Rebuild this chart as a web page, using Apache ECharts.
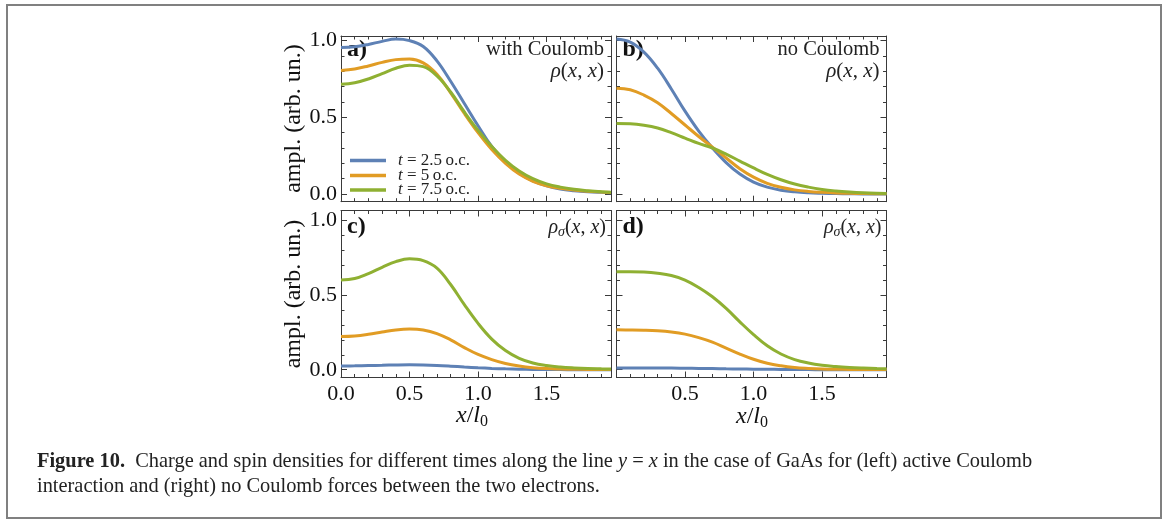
<!DOCTYPE html>
<html><head><meta charset="utf-8">
<script src="https://cdn.jsdelivr.net/npm/echarts@6/dist/echarts.min.js"></script>
<style>html,body{margin:0;padding:0;background:#fff}#c{width:1163px;height:519px}</style>
</head><body><div id="c"></div>
<script>
// ---- data ----
const xs = [0,0.1,0.2,0.3,0.4,0.5,0.6,0.7,0.8,0.9,1.0,1.1,1.2,1.3,1.4,1.5,1.6,1.7,1.8,1.9,1.97];
// a) with Coulomb rho(x,x)
const aBlue   = [0.955,0.960,0.975,0.995,1.010,1.000,0.962,0.868,0.735,0.590,0.445,0.310,0.210,0.135,0.085,0.053,0.033,0.022,0.015,0.011,0.009];
const aOrange = [0.805,0.815,0.835,0.858,0.876,0.880,0.855,0.780,0.660,0.525,0.400,0.290,0.200,0.130,0.083,0.054,0.037,0.026,0.018,0.013,0.010];
const aGreen  = [0.715,0.725,0.750,0.785,0.820,0.840,0.830,0.770,0.665,0.535,0.415,0.310,0.220,0.150,0.100,0.066,0.045,0.031,0.022,0.015,0.012];
// b) no Coulomb rho(x,x)
const bBlue   = [1.010,0.990,0.925,0.820,0.685,0.540,0.410,0.300,0.205,0.130,0.078,0.045,0.025,0.014,0.008,0.005,0.003,0.002,0.001,0.001,0.000];
const bOrange = [0.690,0.680,0.645,0.595,0.525,0.450,0.375,0.305,0.235,0.165,0.110,0.070,0.044,0.027,0.017,0.011,0.007,0.005,0.003,0.002,0.002];
const bGreen  = [0.460,0.458,0.448,0.430,0.400,0.365,0.330,0.300,0.260,0.215,0.170,0.128,0.093,0.065,0.045,0.030,0.020,0.013,0.008,0.005,0.004];
// c) with Coulomb rho_sigma(x,x)
const cBlue   = [0.025,0.026,0.028,0.030,0.032,0.033,0.032,0.029,0.024,0.018,0.013,0.009,0.006,0.004,0.002,0.001,0.001,0.000,0.000,0.000,0.000];
const cOrange = [0.222,0.226,0.237,0.252,0.266,0.272,0.266,0.242,0.200,0.148,0.102,0.068,0.042,0.025,0.014,0.008,0.005,0.003,0.002,0.001,0.001];
const cGreen  = [0.600,0.610,0.643,0.685,0.723,0.742,0.730,0.680,0.570,0.435,0.310,0.205,0.128,0.076,0.045,0.028,0.018,0.012,0.008,0.006,0.005];
// d) no Coulomb rho_sigma(x,x)
const dBlue   = [0.012,0.012,0.012,0.011,0.011,0.010,0.009,0.008,0.006,0.005,0.004,0.003,0.002,0.001,0.001,0.000,0.000,0.000,0.000,0.000,0.000];
const dOrange = [0.267,0.266,0.264,0.260,0.252,0.238,0.215,0.185,0.145,0.105,0.070,0.043,0.026,0.015,0.009,0.005,0.003,0.002,0.001,0.001,0.001];
const dGreen  = [0.655,0.655,0.653,0.645,0.630,0.600,0.550,0.488,0.410,0.320,0.235,0.160,0.105,0.068,0.045,0.030,0.021,0.015,0.011,0.008,0.007];

const seriesNames = ['t = 2.5 o.c.','t = 5 o.c.','t = 7.5 o.c.'];
const legendTexts = ['{i|t} = 2.5\u2009o.c.','{i|t} = 5\u2009o.c.','{i|t} = 7.5\u2009o.c.'];
const xMajorTicks = [0,0.5,1.0,1.5];
const xMinorTicks = [0.1,0.2,0.3,0.4,0.6,0.7,0.8,0.9,1.1,1.2,1.3,1.4,1.6,1.7,1.8,1.9];
const yMajorTicks = [0,0.5,1.0];
const yMinorTicks = [0.1,0.2,0.3,0.4,0.6,0.7,0.8,0.9];
const xLabelsLeft = [0,0.5,1.0,1.5];
const xLabelsRight = [0.5,1.0,1.5];
const yLabels = [0,0.5,1.0];
const panelLetters = ['a)','b)','c)','d)'];
const panelNotes = ['with Coulomb','no Coulomb','',''];
// ---- layout ----
const COLORS = ['#5E81B5','#E19C24','#8FB032'];
const FRAME = '#3a3a3a';
const FONT = 'Liberation Serif';
const XMAX = 1.97;
const panels = [
  {left:341,  top:36,    width:270, height:165.7, ymin:-0.05,  ymax:1.03,  xl:null,         yl:true,  data:[aBlue,aOrange,aGreen]},
  {left:616.5,top:36,    width:270, height:165.7, ymin:-0.05,  ymax:1.03,  xl:null,         yl:false, data:[bBlue,bOrange,bGreen]},
  {left:341,  top:210.5, width:270, height:167,   ymin:-0.052, ymax:1.065, xl:xLabelsLeft,  yl:true,  data:[cBlue,cOrange,cGreen]},
  {left:616.5,top:210.5, width:270, height:167,   ymin:-0.052, ymax:1.065, xl:xLabelsRight, yl:false, data:[dBlue,dOrange,dGreen]}
];

const grids=[], xAxes=[], yAxes=[], series=[];
function xAx(gi, pos, ticks, len, labels, line){
  return {gridIndex:gi, type:'value', min:0, max:XMAX, position:pos,
    axisLine:{show:line, onZero:false, lineStyle:{color:FRAME, width:1}},
    axisTick:{show:true, inside:true, length:len, customValues:ticks, lineStyle:{color:FRAME, width:1}},
    axisLabel:labels ? {show:true, customValues:labels, formatter:v=>v.toFixed(1), margin:6,
      fontFamily:FONT, fontSize:22, color:'#111'} : {show:false},
    splitLine:{show:false}};
}
function yAx(gi, pos, p, ticks, len, labels, line){
  return {gridIndex:gi, type:'value', min:p.ymin, max:p.ymax, position:pos,
    axisLine:{show:line, onZero:false, lineStyle:{color:FRAME, width:1}},
    axisTick:{show:true, inside:true, length:len, customValues:ticks, lineStyle:{color:FRAME, width:1}},
    axisLabel:labels ? {show:true, customValues:labels, formatter:v=>v.toFixed(1), margin:4,
      fontFamily:FONT, fontSize:22, color:'#111'} : {show:false},
    splitLine:{show:false}};
}
panels.forEach((p,i)=>{
  grids.push({left:p.left, top:p.top, width:p.width, height:p.height, containLabel:false});
  xAxes.push(xAx(i,'bottom',xMajorTicks,6,p.xl,true));
  xAxes.push(xAx(i,'top',xMajorTicks,6,null,true));
  yAxes.push(yAx(i,'left',p,yMajorTicks,6,p.yl?yLabels:null,true));
  yAxes.push(yAx(i,'right',p,yMajorTicks,6,null,true));
  p.data.forEach((arr,k)=>{
    series.push({type:'line', name:seriesNames[k], xAxisIndex:2*i, yAxisIndex:2*i,
      data:xs.map((x,j)=>[x,arr[j]]), smooth:0.4, symbol:'none',
      lineStyle:{width:3, color:COLORS[k]}, itemStyle:{color:COLORS[k]}, z:3+k, silent:true});
  });
});
panels.forEach((p,i)=>{
  grids.push({left:p.left, top:p.top, width:p.width, height:p.height, containLabel:false});
  xAxes.push(xAx(4+i,'bottom',xMinorTicks,3.5,null,false));
  xAxes.push(xAx(4+i,'top',xMinorTicks,3.5,null,false));
  yAxes.push(yAx(4+i,'left',p,yMinorTicks,3.5,null,false));
  yAxes.push(yAx(4+i,'right',p,yMinorTicks,3.5,null,false));
});

const graphics = [];
graphics.push({type:'rect', shape:{x:7,y:5,width:1154,height:513}, style:{fill:'none', stroke:'#808080', lineWidth:2}, silent:true});
panels.forEach((p,i)=>{
  graphics.push({type:'text', x:p.left+6, y:p.top + (i<2?14:16.5), style:{text:panelLetters[i], font:'bold 24px "'+FONT+'"', fill:'#111', verticalAlign:'middle'}});
  const right = p.left + p.width - 7;
  if(i<2){
    graphics.push({type:'text', x:right, y:p.top+14, style:{text:panelNotes[i], font:'20.5px "'+FONT+'"', fill:'#222', align:'right', verticalAlign:'middle'}});
    graphics.push({type:'text', x:right, y:p.top+35.5, style:{text:'{i|ρ}{n|(}{i|x}{n|, }{i|x}{n|)}', align:'right', verticalAlign:'middle',
      rich:{i:{fontFamily:FONT, fontStyle:'italic', fontSize:21, fill:'#222'}, n:{fontFamily:FONT, fontSize:21, fill:'#222'}}}});
  } else {
    graphics.push({type:'text', x:right+2, y:p.top+17.5, style:{text:'{i|ρ}{s|σ}{n|(}{i|x}{n|, }{i|x}{n|)}', align:'right', verticalAlign:'middle',
      rich:{i:{fontFamily:FONT, fontStyle:'italic', fontSize:20, fill:'#222', lineHeight:22},
            s:{fontFamily:FONT, fontStyle:'italic', fontSize:14, fill:'#222', lineHeight:22, verticalAlign:'bottom', padding:[7,0,0,0]},
            n:{fontFamily:FONT, fontSize:20, fill:'#222', lineHeight:22}}}});
  }
});
// y axis titles
[[294,118.5],[294,294]].forEach(([x,y])=>{
  graphics.push({type:'text', x:x, y:y, rotation:Math.PI/2, style:{text:'ampl. (arb. un.)', font:'24px "'+FONT+'"', fill:'#111', align:'center', verticalAlign:'middle'}});
});
// x axis titles
[[472,416],[752,417]].forEach(([x,y])=>{
  graphics.push({type:'text', x:x, y:y, style:{text:'{i|x}{n|/}{i|l}{s|0}', align:'center', verticalAlign:'middle',
    rich:{i:{fontFamily:FONT, fontStyle:'italic', fontSize:24, fill:'#111', lineHeight:28},
          n:{fontFamily:FONT, fontSize:24, fill:'#111', lineHeight:28},
          s:{fontFamily:FONT, fontSize:16, fill:'#111', lineHeight:28, verticalAlign:'bottom', padding:[8,0,0,0]}}}});
});
// caption
const capRich = {b:{fontFamily:FONT, fontWeight:'bold', fontSize:20.4, fill:'#222'},
                 n:{fontFamily:FONT, fontSize:20.4, fill:'#222'},
                 i:{fontFamily:FONT, fontStyle:'italic', fontSize:20.4, fill:'#222'}};
graphics.push({type:'text', x:37, y:462, style:{text:'{b|Figure 10.}{n|  Charge and spin densities for different times along the line }{i|y}{n| = }{i|x}{n| in the case of GaAs for (left) active Coulomb}', verticalAlign:'middle', rich:capRich}});
graphics.push({type:'text', x:37, y:487, style:{text:'{n|interaction and (right) no Coulomb forces between the two electrons.}', verticalAlign:'middle', rich:capRich}});

// three single-item legends, stacked
const legendTops = [152, 167, 181.5];
const legends = seriesNames.map((nm,k)=>({data:[nm], orient:'vertical', left:350, top:legendTops[k], icon:'rect',
    itemWidth:36, itemHeight:3.5, selectedMode:false, padding:0,
    formatter:name=>legendTexts[seriesNames.indexOf(name)],
    textStyle:{fontFamily:FONT, fontSize:17, color:'#222', lineHeight:15, padding:[0,0,0,7],
      rich:{i:{fontFamily:FONT, fontStyle:'italic', fontSize:17, color:'#222', lineHeight:15}}}}));

const chart = echarts.init(document.getElementById('c'), null, {renderer:'canvas'});
chart.setOption({
  animation:false,
  backgroundColor:'#fff',
  grid:grids, xAxis:xAxes, yAxis:yAxes, series:series,
  legend:legends,
  graphic:graphics
});
</script></body></html>
